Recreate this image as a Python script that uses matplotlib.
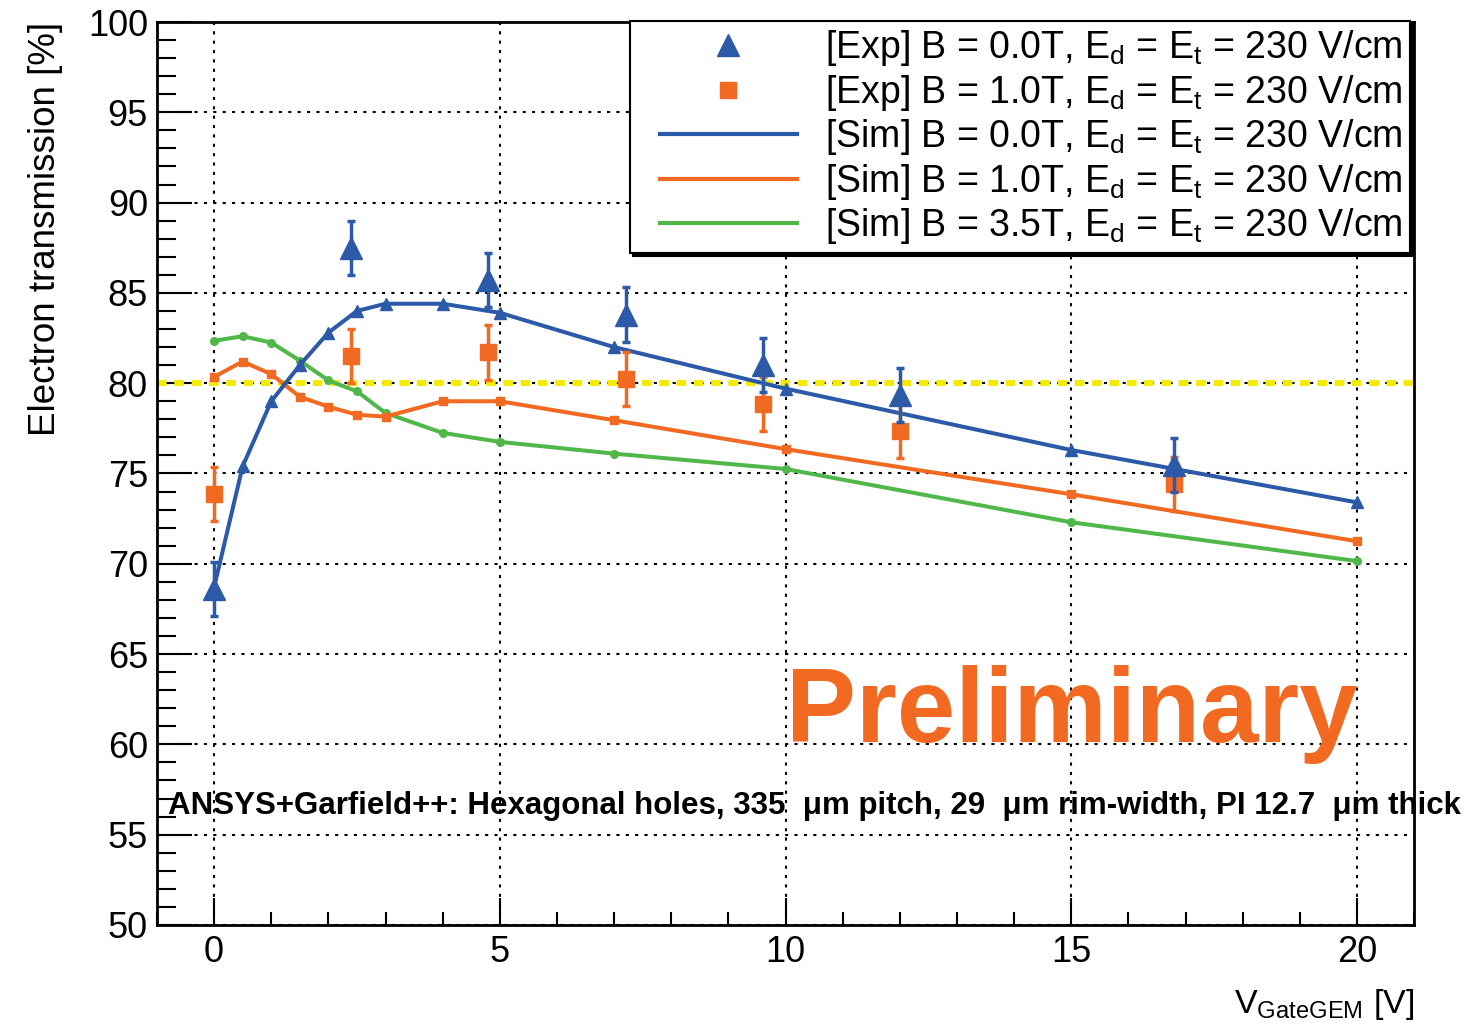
import matplotlib
matplotlib.use("Agg")
import matplotlib.pyplot as plt
from matplotlib.lines import Line2D
from matplotlib.legend_handler import HandlerLine2D
from matplotlib.ticker import MultipleLocator

plt.rcParams['font.family'] = ['Liberation Sans', 'DejaVu Sans']
plt.rcParams['mathtext.fontset'] = 'custom'
plt.rcParams['mathtext.rm'] = 'Liberation Sans'
plt.rcParams['mathtext.it'] = 'Liberation Sans:italic'
plt.rcParams['mathtext.bf'] = 'Liberation Sans:bold'

# simulation (ANSYS + Garfield++)
sim_v = [0, 0.5, 1, 1.5, 2, 2.5, 3, 4, 5, 7, 10, 15, 20]
sim_b00 = [68.7, 75.4, 79.0, 81.0, 82.8, 84.0, 84.4, 84.4, 83.9, 82.0, 79.7, 76.3, 73.4]
sim_b10 = [80.35, 81.2, 80.5, 79.25, 78.7, 78.25, 78.15, 79.0, 79.0, 77.95, 76.35, 73.85, 71.25]
sim_b35 = [82.35, 82.6, 82.25, 81.25, 80.15, 79.55, 78.35, 77.25, 76.75, 76.1, 75.25, 72.3, 70.15]

# measurements
exp_v = [0, 2.4, 4.8, 7.2, 9.6, 12.0, 16.8]
exp_b00 = [68.6, 87.5, 85.7, 83.8, 81.0, 79.35, 75.45]
exp_b00_err = [1.5, 1.5, 1.5, 1.5, 1.5, 1.5, 1.5]
exp_b10 = [73.85, 81.5, 81.7, 80.25, 78.85, 77.35, 74.4]
exp_b10_err = [1.5, 1.5, 1.5, 1.5, 1.5, 1.5, 1.5]

target = 80

labels = [
    r'[Exp] B = 0.0T, E$_{\mathrm{d}}$ = E$_{\mathrm{t}}$ = 230 V/cm',
    r'[Exp] B = 1.0T, E$_{\mathrm{d}}$ = E$_{\mathrm{t}}$ = 230 V/cm',
    r'[Sim] B = 0.0T, E$_{\mathrm{d}}$ = E$_{\mathrm{t}}$ = 230 V/cm',
    r'[Sim] B = 1.0T, E$_{\mathrm{d}}$ = E$_{\mathrm{t}}$ = 230 V/cm',
    r'[Sim] B = 3.5T, E$_{\mathrm{d}}$ = E$_{\mathrm{t}}$ = 230 V/cm',
]

blue = '#2C5AA8'
orange = '#F26A22'
green = '#4FB848'
yellow = '#F5EA00'

fig = plt.figure(figsize=(14.71, 10.29), dpi=100)
ax = fig.add_axes([0.1067, 0.1011, 0.8546, 0.8775])

ax.set_xlim(-1, 21)
ax.set_ylim(50, 100)

# grid + 80% line
ax.set_axisbelow(True)
ax.grid(True, which='major', color='k', linestyle=(0, (1.5, 3)), linewidth=1.5)
ax.axhline(target, color=yellow, lw=4.3, ls=(0, (1.6, 1.3)), zorder=1.5)

# simulation curves
ax.plot(sim_v, sim_b35, color=green, lw=2.9, marker='o', ms=5.5, zorder=2)
ax.plot(sim_v, sim_b10, color=orange, lw=2.9, marker='s', ms=5.5, zorder=2.1)
ax.plot(sim_v, sim_b00, color=blue, lw=2.9, marker='^', ms=8.5, zorder=2.2)

# data
ax.errorbar(exp_v, exp_b10, yerr=exp_b10_err, fmt='s', color=orange, ms=11,
            elinewidth=2.5, capsize=3, capthick=2.5, zorder=3)
ax.errorbar(exp_v, exp_b00, yerr=exp_b00_err, fmt='^', color=blue, ms=16,
            elinewidth=2.5, capsize=3, capthick=2.5, zorder=3.1)

# axes style
ax.set_xticks([0, 5, 10, 15, 20])
ax.set_yticks([50, 55, 60, 65, 70, 75, 80, 85, 90, 95, 100])
ax.xaxis.set_minor_locator(MultipleLocator(1))
ax.yaxis.set_minor_locator(MultipleLocator(1))
ax.tick_params(axis='both', which='both', direction='in', width=1.5, labelsize=26)
ax.tick_params(axis='y', which='major', length=25, pad=6.5)
ax.tick_params(axis='y', which='minor', length=14)
ax.tick_params(axis='x', which='major', length=19.5, pad=7)
ax.tick_params(axis='x', which='minor', length=9.5)
for s in ax.spines.values():
    s.set_linewidth(2)

ax.set_ylabel('Electron transmission [%]', fontsize=26.5, loc='top')
ax.yaxis.set_label_coords(-0.075, 1.0)
ax.text(1.0, -0.0975, r'V$_{\mathrm{GateGEM}}$ [V]', fontsize=24.5,
        ha='right', va='baseline', transform=ax.transAxes)

ax.text(0.5, 0.2027, 'Preliminary', fontsize=75.5, fontweight='bold',
        color=orange, ha='left', va='baseline', transform=ax.transAxes)
ax.text(0.00875, 0.1318,
        'ANSYS+Garfield++: Hexagonal holes, 335  \u03bcm pitch, 29  \u03bcm rim-width, PI 12.7  \u03bcm thick',
        fontsize=22.5, fontweight='bold', ha='left', va='center', transform=ax.transAxes)

handles = [
    Line2D([], [], ls='none', marker='^', ms=16, color=blue),
    Line2D([], [], ls='none', marker='s', ms=11, color=orange),
    Line2D([], [], color=blue, lw=3),
    Line2D([], [], color=orange, lw=3),
    Line2D([], [], color=green, lw=3),
]
line_handler = HandlerLine2D(numpoints=2, marker_pad=0.59)
leg = ax.legend(handles, labels, loc='upper right', bbox_to_anchor=(0.9968, 1.001),
                fontsize=27, frameon=True, fancybox=False, edgecolor='k',
                framealpha=1, shadow={'color': 'k', 'alpha': 1}, borderaxespad=0,
                handlelength=4.85, handletextpad=0.16, labelspacing=0.12,
                borderpad=0.19,
                handler_map={handles[2]: line_handler, handles[3]: line_handler,
                             handles[4]: line_handler})
leg.get_frame().set_linewidth(1.5)

fig.savefig('out.png', dpi=100)
